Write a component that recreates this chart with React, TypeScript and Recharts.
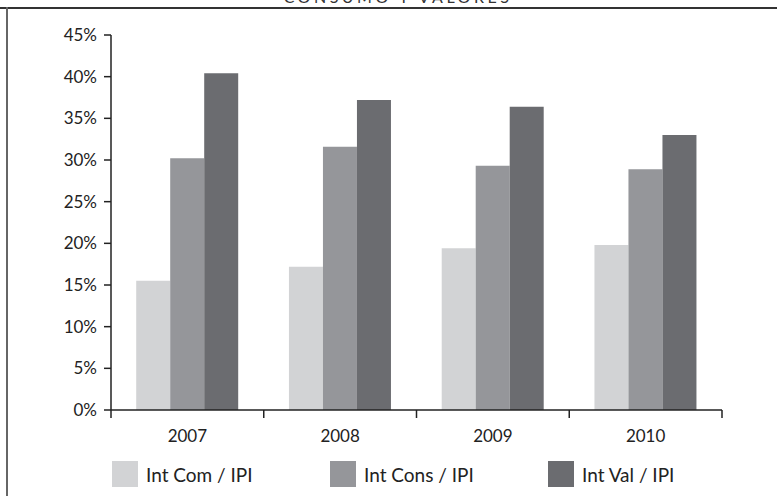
import React from 'react';
import { BarChart, Bar, XAxis, YAxis, Legend } from 'recharts';

const years = ['2007', '2008', '2009', '2010'];
const intCom = [15.5, 17.2, 19.4, 19.8];
const intCons = [30.2, 31.6, 29.3, 28.9];
const intVal = [40.4, 37.2, 36.4, 33.0];
const yTicks = [0, 5, 10, 15, 20, 25, 30, 35, 40, 45];

const SERIES = [
  { key: 'com', name: 'Int Com / IPI', color: '#d2d3d5' },
  { key: 'cons', name: 'Int Cons / IPI', color: '#95969a' },
  { key: 'val', name: 'Int Val / IPI', color: '#6b6c70' },
];

const data = years.map((year, i) => ({
  year,
  com: intCom[i],
  cons: intCons[i],
  val: intVal[i],
}));

const FONT = 'Lato, "Open Sans", sans-serif';

// category label plus tick marks on the category boundaries
const YearTick = (props: any) => {
  const { x, y, payload, index, visibleTicksCount } = props;
  const half = payload && payload.offset ? payload.offset : 76.4;
  const last = index === (visibleTicksCount ?? years.length) - 1;
  return (
    <g>
      <line x1={x - half} x2={x - half} y1={y} y2={y + 8} stroke="#222" strokeWidth={1.5} />
      {last && <line x1={x + half} x2={x + half} y1={y} y2={y + 8} stroke="#222" strokeWidth={1.5} />}
      <text x={x} y={y + 32} textAnchor="middle" fill="#222" fontSize={17} fontFamily={FONT}>
        {payload.value}
      </text>
    </g>
  );
};

const LegendContent = () => (
  <div style={{ display: 'flex', height: 32, alignItems: 'center', fontFamily: FONT }}>
    {SERIES.map(s => (
      <div key={s.key} style={{ display: 'flex', alignItems: 'center', width: 218 }}>
        <div style={{ width: 26, height: 26, background: s.color, marginRight: 8 }} />
        <span style={{ fontSize: 19, color: '#222' }}>{s.name}</span>
      </div>
    ))}
  </div>
);

const App: React.FC = () => {
  return (
    <div style={{ position: 'absolute', left: 0, top: 0, width: 777, height: 496, overflow: 'hidden', background: '#fff' }}>
      <div style={{
        position: 'absolute', left: 262, top: -13, width: 272, textAlign: 'center',
        fontFamily: FONT, fontSize: 16, letterSpacing: 3.5, color: '#333', whiteSpace: 'nowrap',
      }}>
        CONSUMO Y VALORES
      </div>
      <div style={{ position: 'absolute', left: 0, top: 7, width: 777, height: 2, background: '#333' }} />
      <div style={{ position: 'absolute', left: 6, top: 7, width: 2, height: 489, background: '#666' }} />
      <div style={{ position: 'absolute', left: 0, top: 0 }}>
        <BarChart
          width={777}
          height={496}
          data={data}
          margin={{ top: 35, right: 55, left: 0, bottom: 24 }}
          barCategoryGap="16.5%"
          barGap={0}
        >
          <XAxis
            dataKey="year"
            height={30}
            interval={0}
            axisLine={{ stroke: '#222', strokeWidth: 1.5 }}
            tickLine={false}
            tickSize={0}
            tickMargin={0}
            tick={<YearTick />}
          />
          <YAxis
            width={111}
            domain={[0, 45]}
            ticks={yTicks}
            interval={0}
            tickFormatter={(v: number) => `${v}%`}
            tickSize={7}
            tickMargin={7}
            axisLine={{ stroke: '#222', strokeWidth: 1.5 }}
            tickLine={{ stroke: '#222', strokeWidth: 1.5 }}
            tick={{ fill: '#222', fontSize: 17, fontFamily: FONT }}
          />
          <Legend
            verticalAlign="bottom"
            content={<LegendContent />}
            wrapperStyle={{ left: 112, top: 458, width: 660 }}
          />
          {SERIES.map(s => (
            <Bar
              key={s.key}
              dataKey={s.key}
              name={s.name}
              fill={s.color}
              isAnimationActive={false}
            />
          ))}
        </BarChart>
      </div>
    </div>
  );
};

export default App;
